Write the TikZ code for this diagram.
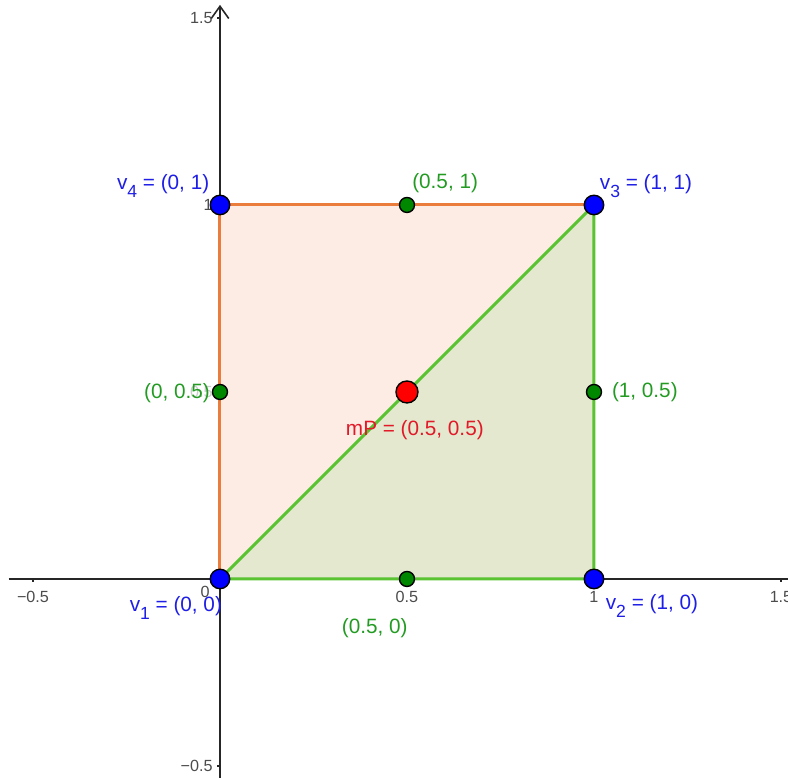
\documentclass[tikz,border=0pt]{standalone}
\usepackage{fontspec}
\setmainfont{Liberation Sans}
\usetikzlibrary{arrows.meta, positioning}

\definecolor{ptblue}{RGB}{0,0,255}
\definecolor{ptgreen}{RGB}{0,135,0}
\definecolor{ptred}{RGB}{255,0,0}
\definecolor{txtblue}{RGB}{30,30,230}
\definecolor{txtgreen}{RGB}{35,155,35}
\definecolor{txtred}{RGB}{225,25,40}
\definecolor{orangeedge}{RGB}{235,125,60}
\definecolor{orangefill}{RGB}{253,236,227}
\definecolor{greenedge}{RGB}{90,195,50}
\definecolor{greenfill}{RGB}{227,232,206}

\newcommand{\vsub}[2]{#1\raisebox{-0.7ex}{\fontsize{5}{5}\selectfont #2}}

\begin{document}
\begin{tikzpicture}[
        x=3.74cm, y=3.74cm,
        >={Straight Barb[length=3.5pt, width=5pt]},
        axis/.style={->, black!85, line width=0.45pt},
        tick/.style={black!85, line width=0.45pt},
        ticklabel/.style={text=black!70, font=\fontsize{4.6}{5}\selectfont, inner sep=0pt},
        tri_orange/.style={fill=orangefill},
        tri_green/.style={fill=greenfill},
        edge_orange/.style={draw=orangeedge, line width=0.85pt},
        edge_green/.style={draw=greenedge, line width=0.85pt},
        vertex/.style={circle, fill=ptblue, draw=black, line width=0.4pt, inner sep=0pt, minimum size=0.195cm},
        midpoint/.style={circle, fill=ptgreen, draw=black, line width=0.4pt, inner sep=0pt, minimum size=0.15cm},
        centre/.style={circle, fill=ptred, draw=black, line width=0.4pt, inner sep=0pt, minimum size=0.22cm},
        vlabel/.style={text=txtblue, font=\fontsize{5.9}{7}\selectfont, inner sep=0pt},
        glabel/.style={text=txtgreen, font=\fontsize{5.9}{7}\selectfont, inner sep=0pt},
        rlabel/.style={text=txtred, font=\fontsize{5.9}{7}\selectfont, inner sep=0pt}
    ]

    \useasboundingbox (-0.5882,-0.5321) rectangle (1.5187,1.5481);

    % axes
    \draw[tick] (-0.565,0) -- (1.53,0);
    \draw[axis] (0,-0.54) -- (0,1.535);

    \foreach \t in {-0.5,0.5,1,1.5} {
        \draw[tick] (\t,0) -- (\t,-0.009);
        \draw[tick] (0,\t) -- (-0.009,\t);
    }

    \node[ticklabel] (tx1) at (-0.5,-0.048) {−0.5};
    \node[ticklabel] (tx2) at (0.5,-0.048) {0.5};
    \node[ticklabel] (tx3) at (1,-0.048) {1};
    \node[ticklabel] (tx4) at (1.5,-0.048) {1.5};
    \node[ticklabel] (tx0) at (-0.04,-0.035) {0};
    \node[ticklabel, anchor=east] (ty1) at (-0.018,-0.5) {−0.5};
    \node[ticklabel, anchor=east, text=black!20] (ty2) at (-0.018,0.5) {0.5};
    \node[ticklabel, anchor=east] (ty3) at (-0.018,1) {1};
    \node[ticklabel, anchor=east] (ty4) at (-0.018,1.5) {1.5};

    % square split into two triangles
    \coordinate (c1) at (0,0);
    \coordinate (c2) at (1,0);
    \coordinate (c3) at (1,1);
    \coordinate (c4) at (0,1);

    \fill[tri_orange] (c1) -- (c3) -- (c4) -- cycle;
    \fill[tri_green] (c1) -- (c2) -- (c3) -- cycle;
    \draw[edge_orange] (c1) -- (c4) -- (c3);
    \draw[edge_green] (c1) -- (c2) -- (c3) -- cycle;

    % points
    \node[midpoint] (m12) at (0.5,0) {};
    \node[midpoint] (m23) at (1,0.5) {};
    \node[midpoint] (m34) at (0.5,1) {};
    \node[midpoint] (m41) at (0,0.5) {};
    \node[centre] (mP) at (0.5,0.5) {};
    \node[vertex] (v1) at (c1) {};
    \node[vertex] (v2) at (c2) {};
    \node[vertex] (v3) at (c3) {};
    \node[vertex] (v4) at (c4) {};

    % labels
    \node[vlabel] (lv1) at (-0.118,-0.078) {\vsub{v}{1} = (0, 0)};
    \node[vlabel] (lv2) at (1.155,-0.073) {\vsub{v}{2} = (1, 0)};
    \node[vlabel] (lv3) at (1.139,1.050) {\vsub{v}{3} = (1, 1)};
    \node[vlabel] (lv4) at (-0.152,1.050) {\vsub{v}{4} = (0, 1)};

    \node[glabel] (lm12) at (0.414,-0.131) {(0.5, 0)};
    \node[glabel] (lm23) at (1.136,0.500) {(1, 0.5)};
    \node[glabel] (lm34) at (0.602,1.059) {(0.5, 1)};
    \node[glabel] (lm41) at (-0.115,0.497) {(0, 0.5)};

    \node[rlabel] (lmP) at (0.521,0.398) {mP = (0.5, 0.5)};

\end{tikzpicture}
\end{document}
